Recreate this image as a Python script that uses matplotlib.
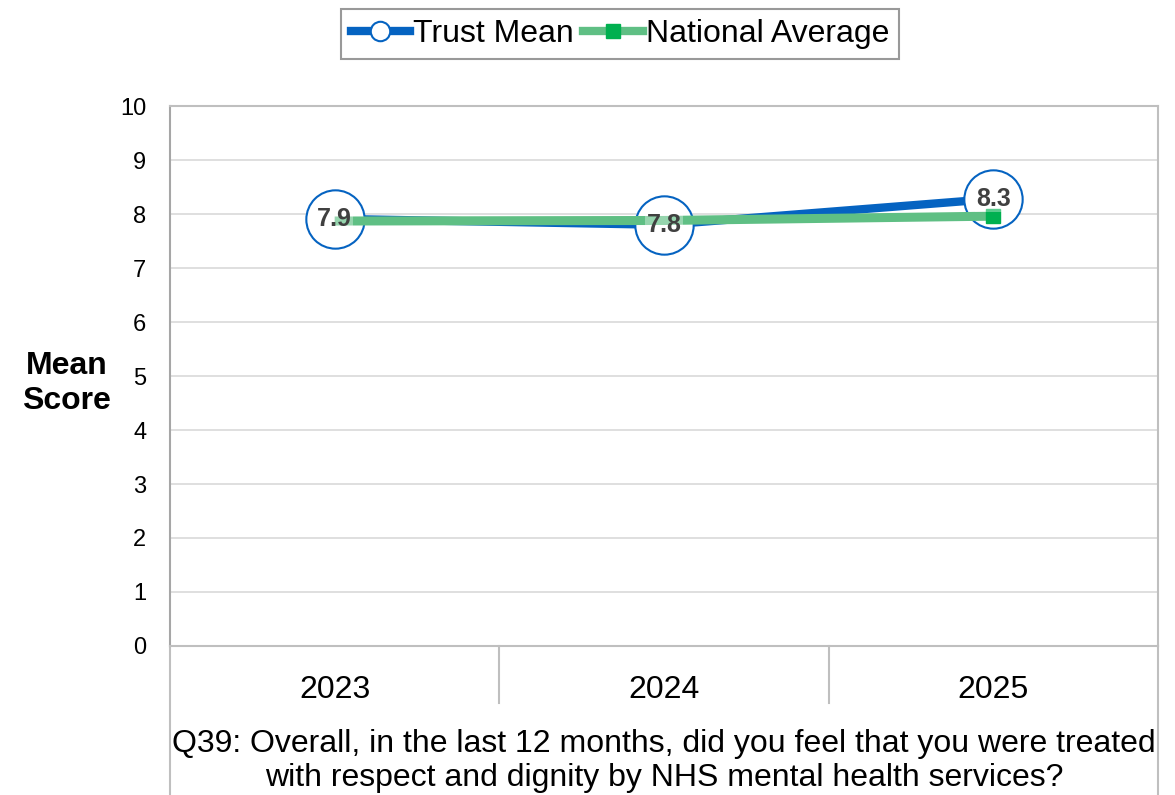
import matplotlib.pyplot as plt
from matplotlib.lines import Line2D
import matplotlib.transforms as mtransforms

plt.rcParams['font.family'] = ['Liberation Sans', 'DejaVu Sans']

years = ['2023', '2024', '2025']
trust_mean = [7.91, 7.80, 8.28]
national_avg = [7.87, 7.88, 7.96]
y_ticks = list(range(0, 11))
question = ("Q39: Overall, in the last 12 months, did you feel that you were treated\n"
            "with respect and dignity by NHS mental health services?")

blue = '#0563C1'
green = '#5FBF84'
green_marker = '#00B050'
grid_col = '#D9D9D9'
border_col = '#BFBFBF'

fig = plt.figure(figsize=(11.75, 7.95), dpi=100)
ax = fig.add_axes([170 / 1175, 1 - 646 / 795, (1158 - 170) / 1175, (646 - 106) / 795])

x = list(range(len(years)))

# trust line with big hollow circles
ax.plot(x, trust_mean, color=blue, lw=6, solid_capstyle='butt', zorder=3)
ax.plot(x, trust_mean, ls='none', marker='o', ms=42, mfc='white', mec=blue, mew=1.5, zorder=4)
# national average on top
ax.plot(x, national_avg, color=green, lw=6.5, solid_capstyle='butt', zorder=5)
ax.plot(x[-1:], national_avg[-1:], ls='none', marker='s', ms=10, color=green_marker, zorder=6)

for xi, v in zip(x, trust_mean):
    ax.text(xi, v, f'{v:.1f}', ha='center', va='center', fontsize=18, fontweight='bold',
            color='#404040', zorder=7,
            bbox=dict(boxstyle='square,pad=0.05', fc='white', ec='none', alpha=0.35))

ax.set_xlim(-0.5, len(years) - 0.5)
ax.set_ylim(0, 10)
ax.set_yticks(y_ticks)
ax.set_xticks(x)
ax.set_xticklabels(years)
ax.tick_params(axis='y', length=0, pad=17, labelsize=17)
ax.tick_params(axis='x', length=0, pad=21, labelsize=23)
ax.yaxis.grid(True, color=grid_col, lw=1.2)
ax.set_axisbelow(True)
for side in ['top', 'right', 'bottom']:
    ax.spines[side].set_color(border_col)
    ax.spines[side].set_linewidth(1.5)
ax.spines['left'].set_color('#A6A6A6')
ax.spines['left'].set_linewidth(1.5)

ax.set_ylabel('Mean\nScore', rotation=0, fontsize=23, fontweight='bold',
              labelpad=0, linespacing=1.2, va='center', ha='center')
ax.yaxis.set_label_coords(-0.105, 0.486)

# category table lines under the axis
trans = mtransforms.blended_transform_factory(ax.transData, ax.transAxes)
short = -(703 - 646) / 540
long_ = -(795 - 646) / 540
for xb in [0.5, 1.5]:
    ax.plot([xb, xb], [0, short], transform=trans, color=border_col, lw=1.5, clip_on=False)
for xb in [-0.5, len(years) - 0.5]:
    ax.plot([xb, xb], [0, long_], transform=trans, color=border_col, lw=1.5, clip_on=False)

fig.text((170 + 1158) / 2 / 1175, 1 - 761 / 795, question, ha='center', va='center',
         fontsize=23, linespacing=1.2)

handles = [
    Line2D([], [], color=blue, lw=6, marker='o', ms=14, mfc='white', mec=blue, mew=1.5),
    Line2D([], [], color=green, lw=6, marker='s', ms=10, mfc=green_marker, mec=green_marker),
]
leg = fig.legend(handles, ['Trust Mean', 'National Average'], loc='center',
                 bbox_to_anchor=(620 / 1175, 1 - 34 / 795), ncol=2, fontsize=23,
                 frameon=True, fancybox=False, edgecolor='#808080', handlelength=1.85,
                 handletextpad=0.1, columnspacing=0.3, borderpad=0.3)
leg.get_frame().set_linewidth(1.5)

fig.savefig('out.png', dpi=100)
